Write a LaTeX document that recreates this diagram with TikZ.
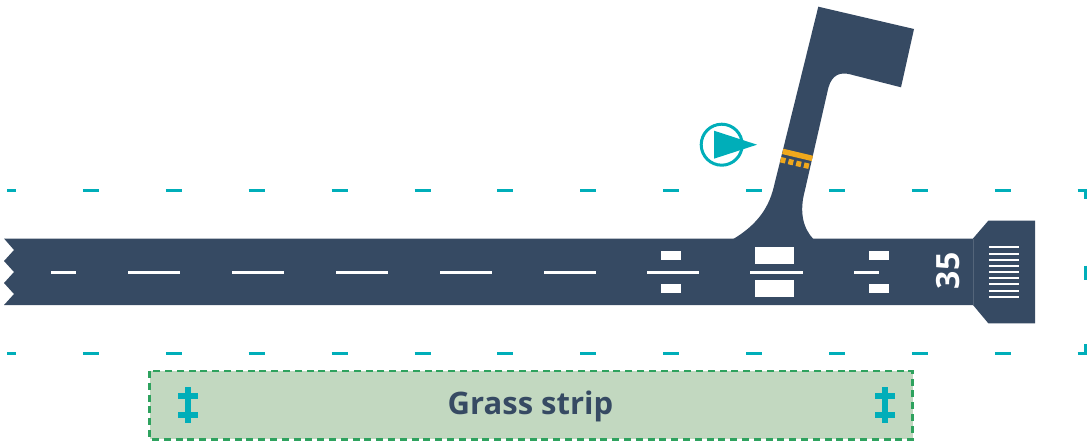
\documentclass[tikz,border=0pt]{standalone}
\usepackage{fontspec}
\setmainfont{Open Sans}
\usetikzlibrary{arrows.meta}
\definecolor{navy}{HTML}{364A63}
\definecolor{teal}{HTML}{00AEB9}
\definecolor{amber}{HTML}{F0A81C}
\definecolor{grass}{HTML}{C2D8C0}
\definecolor{hedge}{HTML}{2EA25E}

\begin{document}
\begin{tikzpicture}[
  x=1pt,y=-1pt,
  paved/.style={fill=navy},
  paint/.style={fill=white},
  centreline/.style={draw=white,line width=2.6pt},
  threshold/.style={draw=white,line width=2.3pt},
  limit/.style={draw=teal,line width=3pt,dash pattern=on 16pt off 66.9pt,dash phase=7pt},
  marker/.style={fill=teal}
]
\useasboundingbox (0,0) rectangle (1092,441);

% protected area limits
\draw[limit] (7,190) -- (1085,190) -- (1085,280);
\draw[limit] (7,353) -- (1085,353) -- (1085,272);

% taxiway
\fill[paved] (818.3,6.7) -- (914,29) -- (901,87.3) -- (850,74.3)
  .. controls (841,72) and (832,74) .. (828.3,88) -- (805,190)
  .. controls (799,212) and (803,228) .. (813.3,239) -- (733.3,239)
  .. controls (755,226) and (768,210) .. (773.5,188) -- cycle;
\draw[amber,line width=5.5pt] (782.7,151.4) -- (812.3,158.4);
\draw[amber,line width=5.5pt,dash pattern=on 5pt off 3pt] (780.6,159.7) -- (809.1,166.3);

% runway and blast pad
\fill[paved] (4,238.5) -- (973,238.5) -- (973,305) -- (4,305) -- (14,294) -- (4,283)
  -- (14,272) -- (4,261) -- (14,250) -- cycle;
\fill[paved] (973,238.5) -- (988.3,220.7) -- (1035,220.7) -- (1035,323.3) -- (988.3,323.3) -- (973,305) -- cycle;
\draw[navy!85!white,line width=0.6pt] (973,238.5) -- (973,305);

% centre line
\draw[centreline] (51,272.2) -- (76,272.2);
\draw[centreline] (128,272.2) -- (180,272.2);
\draw[centreline] (232,272.2) -- (284,272.2);
\draw[centreline] (336,272.2) -- (388,272.2);
\draw[centreline] (440,272.2) -- (492,272.2);
\draw[centreline] (544,272.2) -- (596,272.2);
\draw[centreline] (647,272.2) -- (699,272.2);
\draw[centreline] (750,272.2) -- (803,272.2);
\draw[centreline] (854,272.2) -- (879,272.2);

% touchdown marks
\fill[paint] (661,251) rectangle (681,260);
\fill[paint] (661,284) rectangle (681,293);
\fill[paint] (755,247) rectangle (794,264);
\fill[paint] (755,280) rectangle (794,297);
\fill[paint] (869,251) rectangle (889,260);
\fill[paint] (869,284) rectangle (889,293);

% threshold
\draw[threshold] (989,247) -- (1019,247);
\draw[threshold] (989,254) -- (1019,254);
\draw[threshold] (989,260) -- (1019,260);
\draw[threshold] (989,266) -- (1019,266);
\draw[threshold] (989,272) -- (1019,272);
\draw[threshold] (989,278) -- (1019,278);
\draw[threshold] (989,284) -- (1019,284);
\draw[threshold] (989,291) -- (1019,291);
\draw[threshold] (989,297) -- (1019,297);
\node[rotate=90,text=white,font=\bfseries\fontsize{32}{32}\selectfont] (number) at (948.5,271) {35};

% wind marker
\draw[teal,line width=3pt] (721.7,144.7) circle (20.5);
\fill[marker] (714,130.7) -- (757,144.7) -- (714,158.7) -- cycle;

% grass strip
\draw[hedge,line width=2.8pt,fill=grass,dash pattern=on 7pt off 4.8pt] (149.5,371) rectangle (912.5,439.3);
\node[text=navy,font=\bfseries\fontsize{31}{31}\selectfont] (grass) at (530.5,406.5) {Grass strip};
\fill[marker] (185,387) rectangle (191,423);
\fill[marker] (178,393) rectangle (198,399);
\fill[marker] (178,412) rectangle (198,418);
\fill[marker] (882,387) rectangle (888,423);
\fill[marker] (875,393) rectangle (895,399);
\fill[marker] (875,412) rectangle (895,418);
\end{tikzpicture}
\end{document}
